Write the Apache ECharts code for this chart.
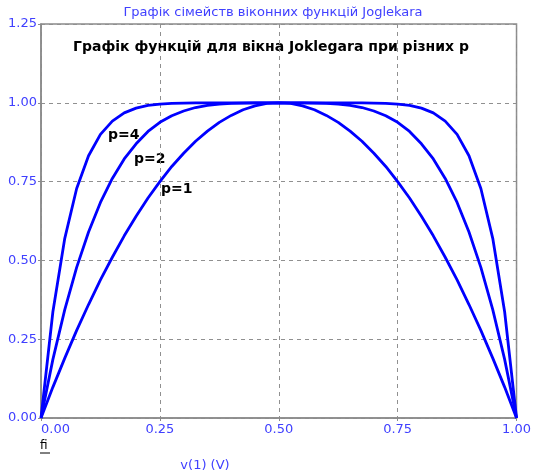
<!DOCTYPE html>
<html>
<head>
<meta charset="utf-8">
<script src="https://cdn.jsdelivr.net/npm/echarts@6/dist/echarts.min.js"></script>
<style>html,body{margin:0;padding:0;background:#fff}#c{width:534px;height:475px}</style>
</head>
<body>
<div id="c"></div>
<script>
const xs = [0,0.025,0.05,0.075,0.1,0.125,0.15,0.175,0.2,0.225,0.25,0.275,0.3,0.325,0.35,0.375,0.4,0.425,0.45,0.475,0.5,
  0.525,0.55,0.575,0.6,0.625,0.65,0.675,0.7,0.725,0.75,0.775,0.8,0.825,0.85,0.875,0.9,0.925,0.95,0.975,1];
const p1 = [0,0.098,0.19,0.278,0.36,0.438,0.51,0.578,0.64,0.698,0.75,0.798,0.84,0.878,0.91,0.938,0.96,0.978,0.99,0.998,1,
  0.998,0.99,0.978,0.96,0.938,0.91,0.878,0.84,0.798,0.75,0.698,0.64,0.578,0.51,0.438,0.36,0.278,0.19,0.098,0];
const p2 = [0,0.186,0.344,0.478,0.59,0.684,0.76,0.822,0.87,0.909,0.938,0.959,0.974,0.985,0.992,0.996,0.998,0.999,1,1,1,
  1,1,0.999,0.998,0.996,0.992,0.985,0.974,0.959,0.938,0.909,0.87,0.822,0.76,0.684,0.59,0.478,0.344,0.186,0];
const p4 = [0,0.337,0.57,0.728,0.832,0.9,0.942,0.968,0.983,0.992,0.996,0.998,0.999,1,1,1,1,1,1,1,1,
  1,1,1,1,1,1,1,0.999,0.998,0.996,0.992,0.983,0.968,0.942,0.9,0.832,0.728,0.57,0.337,0];
const seriesNames = ['p=1','p=2','p=4'];
const xTicks = [0,0.25,0.5,0.75,1];
const yTicks = [0,0.25,0.5,0.75,1,1.25];

const chart = echarts.init(document.getElementById('c'));
const FONT = 'DejaVu Sans';
const BLUE_TXT = '#4040ff';
function pairs(v){ return xs.map((x,i)=>[x,v[i]]); }
const lineStyle = {color:'#0000ff', width:2.8};
chart.setOption({
  animation:false,
  grid:{left:41,right:17,top:24,bottom:57,show:true,borderColor:'#8a8a8a',borderWidth:1.5},
  xAxis:{type:'value',min:0,max:1,interval:0.25,
    axisLine:{show:true,lineStyle:{color:'#8a8a8a',width:1.5}},
    axisTick:{show:true,length:3,lineStyle:{color:'#8a8a8a'}},
    splitLine:{show:true,lineStyle:{color:'#909090',type:[4,4],width:1}},
    axisLabel:{color:BLUE_TXT,fontFamily:FONT,fontSize:13,margin:5,alignMinLabel:'left',
      formatter:v=>v.toFixed(2)}},
  yAxis:{type:'value',min:0,max:1.25,interval:0.25,
    axisLine:{show:true,lineStyle:{color:'#8a8a8a',width:1.5}},
    axisTick:{show:true,length:3,lineStyle:{color:'#8a8a8a'}},
    splitLine:{show:true,lineStyle:{color:'#909090',type:[4,4],width:1}},
    axisLabel:{color:BLUE_TXT,fontFamily:FONT,fontSize:13,margin:4,
      formatter:v=>v.toFixed(2)}},
  series:[
    {name:seriesNames[0],type:'line',data:pairs(p1),showSymbol:false,lineStyle:lineStyle},
    {name:seriesNames[1],type:'line',data:pairs(p2),showSymbol:false,lineStyle:lineStyle},
    {name:seriesNames[2],type:'line',data:pairs(p4),showSymbol:false,lineStyle:lineStyle}
  ],
  graphic:[
    {type:'text',x:273,y:13,style:{text:'Графік сімейств віконних функцій Joglekara',fill:BLUE_TXT,font:'13px "DejaVu Sans"',align:'center',verticalAlign:'middle'}},
    {type:'text',x:271,y:47,style:{text:'Графік функцій для вікна Joklegara при різних p',fill:'#000',font:'bold 14px "DejaVu Sans"',align:'center',verticalAlign:'middle'}},
    {type:'text',x:108,y:135,style:{text:'p=4',fill:'#000',font:'bold 14px "DejaVu Sans"',align:'left',verticalAlign:'middle'}},
    {type:'text',x:134,y:159,style:{text:'p=2',fill:'#000',font:'bold 14px "DejaVu Sans"',align:'left',verticalAlign:'middle'}},
    {type:'text',x:161,y:189,style:{text:'p=1',fill:'#000',font:'bold 14px "DejaVu Sans"',align:'left',verticalAlign:'middle'}},
    {type:'text',x:40,y:446,style:{text:'fi',fill:'#000',font:'12px "DejaVu Sans"',align:'left',verticalAlign:'middle'}},
    {type:'line',shape:{x1:40,y1:453,x2:50,y2:453},style:{stroke:'#000',lineWidth:1}},
    {type:'text',x:205,y:466,style:{text:'v(1) (V)',fill:BLUE_TXT,font:'13px "DejaVu Sans"',align:'center',verticalAlign:'middle'}}
  ]
});
</script>
</body>
</html>
